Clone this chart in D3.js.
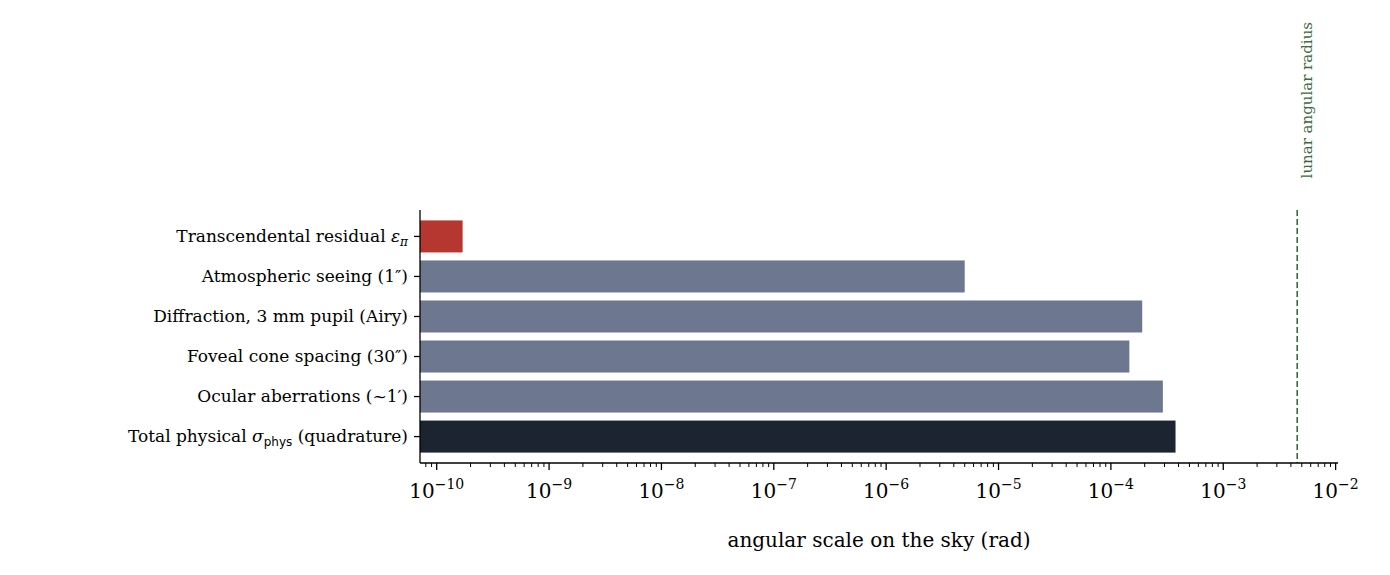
<!DOCTYPE html>
<html><head><meta charset="utf-8">
<script src="https://cdn.jsdelivr.net/npm/d3@7"></script>
<style>body{margin:0;background:#fff}svg{font-family:"DejaVu Serif",serif}</style>
</head><body><svg id="c" width="1390" height="575"></svg>
<script>
const categories = ["Transcendental residual ε_π","Atmospheric seeing (1″)","Diffraction, 3 mm pupil (Airy)","Foveal cone spacing (30″)","Ocular aberrations (~1′)","Total physical σ_phys (quadrature)"];
const values = [1.7e-10, 5.0e-6, 1.9e-4, 1.46e-4, 2.9e-4, 3.76e-4];
const colors = ["#b5372f","#6d7890","#6d7890","#6d7890","#6d7890","#1c2331"];
const tickExps = [-10,-9,-8,-7,-6,-5,-4,-3,-2];
const lunar = 4.55e-3;
const svg = d3.select("#c");
const L=420,R=1338,T=210,B=463;
const x = d3.scaleLog().domain([7.1e-11,1.05e-2]).range([L,R]);
const y = d3.scaleBand().domain(categories).range([T,B]).paddingInner(0.2).paddingOuter(0.26);
svg.selectAll("rect.bar").data(categories).join("rect")
 .attr("x",L).attr("y",d=>y(d)).attr("height",y.bandwidth())
 .attr("width",(d,i)=>x(values[i])-L).attr("fill",(d,i)=>colors[i]);
// lunar line
svg.append("line").attr("x1",x(lunar)).attr("x2",x(lunar)).attr("y1",T).attr("y2",B)
 .attr("stroke","#3b6b45").attr("stroke-width",1.6).attr("stroke-dasharray","6,3");
svg.append("text").attr("transform",`translate(${x(lunar)+15},22) rotate(-90)`)
 .attr("text-anchor","end").attr("font-size",15).attr("fill","#3b6b45").text("lunar angular radius");
// x axis
const gx = svg.append("g").attr("transform",`translate(0,${B})`);
gx.append("line").attr("x1",L).attr("x2",R).attr("stroke","#000").attr("stroke-width",1.3);
const minors=[];
for(let e=-11;e<=-2;e++)for(let m=2;m<=9;m++){const v=m*Math.pow(10,e);if(v>=x.domain()[0]&&v<=x.domain()[1])minors.push(v);}
gx.selectAll("line.mi").data(minors).join("line").attr("x1",d=>x(d)).attr("x2",d=>x(d)).attr("y2",4).attr("stroke","#000").attr("stroke-width",1);
tickExps.forEach(e=>{
 const px=x(Math.pow(10,e));
 gx.append("line").attr("x1",px).attr("x2",px).attr("y2",7).attr("stroke","#000").attr("stroke-width",1.3);
 const t=gx.append("text").attr("x",px).attr("y",35).attr("text-anchor","middle").attr("font-size",20);
 t.append("tspan").text("10");
 t.append("tspan").attr("dy",-9).attr("font-size",14).text("−"+Math.abs(e));
});
svg.append("text").attr("x",(L+R)/2).attr("y",547).attr("text-anchor","middle").attr("font-size",20).text("angular scale on the sky (rad)");
// y axis
svg.append("line").attr("x1",L).attr("x2",L).attr("y1",T).attr("y2",B).attr("stroke","#000").attr("stroke-width",1.3);
categories.forEach((c,i)=>{
 const cy=y(c)+y.bandwidth()/2;
 svg.append("line").attr("x1",L-6).attr("x2",L).attr("y1",cy).attr("y2",cy).attr("stroke","#000").attr("stroke-width",1.3);
 const t=svg.append("text").attr("x",L-12).attr("y",cy+5.5).attr("text-anchor","end").attr("font-size",17);
 if(i===0){t.append("tspan").text("Transcendental residual ");t.append("tspan").attr("font-style","italic").text("ε");t.append("tspan").attr("font-style","italic").attr("font-size",12).attr("dy",4).text("π");}
 else if(i===5){t.append("tspan").text("Total physical ");t.append("tspan").attr("font-style","italic").text("σ");t.append("tspan").attr("font-size",12).attr("dy",4).attr("font-family","DejaVu Sans").text("phys");t.append("tspan").attr("dy",-4).text(" (quadrature)");}
 else t.text(c);
});
</script></body></html>
